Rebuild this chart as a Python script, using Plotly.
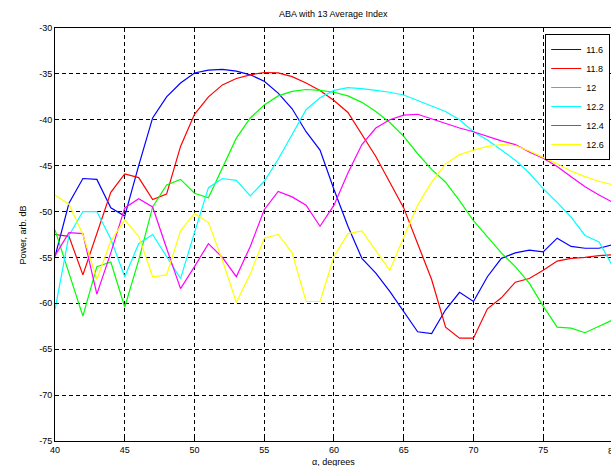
import plotly.graph_objects as go

angles = list(range(40, 81))

s116 = [-54.9, -49.1, -46.4, -46.5, -49.6, -50.5, -45.0, -39.8, -37.5, -36.0,
        -34.9, -34.6, -34.5, -34.7, -35.1, -35.8, -37.1, -38.8, -41.3, -43.3,
        -47.6, -51.6, -55.1, -56.7, -58.7, -60.9, -63.1, -63.3, -60.7, -58.8,
        -59.8, -57.1, -55.1, -54.5, -54.2, -54.4, -52.9, -53.8, -54.0, -54.0, -53.6]
s118 = [-52.5, -52.7, -56.9, -52.3, -47.9, -45.9, -46.3, -48.7, -48.1, -42.9,
        -39.4, -37.5, -36.2, -35.5, -35.1, -34.85, -34.9, -35.3, -36.0, -36.8,
        -37.9, -39.2, -41.6, -44.0, -46.8, -49.6, -53.5, -57.4, -62.6, -63.8,
        -63.8, -60.6, -59.4, -57.7, -57.3, -56.4, -55.4, -55.1, -55.0, -54.8, -54.7]
s120 = [-52.0, -56.7, -61.4, -56.0, -55.5, -60.4, -55.3, -49.5, -47.1, -46.5,
        -48.0, -48.5, -45.3, -42.0, -39.8, -38.4, -37.4, -36.9, -36.7, -36.8,
        -37.0, -37.4, -38.1, -39.1, -40.3, -41.8, -43.7, -45.4, -46.8, -48.8,
        -51.0, -52.8, -54.5, -56.0, -57.8, -60.3, -62.6, -62.7, -63.2, -62.5, -61.8]
s122 = [-60.7, -52.6, -50.0, -50.0, -53.0, -57.1, -53.5, -52.5, -54.9, -57.3,
        -52.3, -47.4, -46.4, -46.6, -48.3, -46.7, -44.3, -41.6, -38.9, -37.6,
        -36.8, -36.5, -36.6, -36.8, -37.0, -37.3, -37.9, -38.5, -39.1, -40.0,
        -41.3, -42.2, -43.3, -44.4, -45.8, -47.5, -49.0, -50.6, -52.6, -53.3, -56.0]
s124 = [-54.8, -52.3, -52.4, -59.0, -54.5, -49.6, -48.6, -49.5, -54.0, -58.4,
        -56.0, -53.5, -55.0, -57.1, -53.8, -49.8, -47.8, -48.4, -49.3, -51.6,
        -49.3, -45.8, -42.7, -40.9, -40.0, -39.5, -39.4, -39.9, -40.4, -40.9,
        -41.3, -41.8, -42.3, -42.7, -43.5, -44.2, -45.1, -46.2, -47.3, -48.2, -49.0]
s126 = [-48.2, -49.2, -52.5, -57.4, -53.2, -50.9, -52.7, -57.1, -56.9, -52.1,
        -50.2, -51.2, -55.3, -59.9, -56.8, -52.9, -52.5, -54.5, -59.8, -59.8,
        -54.9, -52.4, -52.1, -54.2, -56.4, -52.8, -49.3, -46.8, -44.8, -43.8,
        -43.3, -42.9, -42.7, -42.8, -43.4, -44.1, -44.8, -45.6, -46.2, -46.7, -47.1]

series_names = ["11.6", "11.8", "12", "12.2", "12.4", "12.6"]
series_values = [s116, s118, s120, s122, s124, s126]
series_colors = ["#0000FF", "#FF0000", "#00FF00", "#00FFFF", "#FF00FF", "#FFFF00"]

x_ticks = [40, 45, 50, 55, 60, 65, 70, 75]
y_ticks = [-30, -35, -40, -45, -50, -55, -60, -65, -70, -75]

FONT = "Liberation Sans, Arial, sans-serif"

fig = go.Figure()
for name, vals, col in zip(series_names, series_values, series_colors):
    fig.add_trace(go.Scatter(x=angles, y=vals, mode="lines", name=name,
                             line=dict(color=col, width=1.2)))

fig.update_layout(
    width=611, height=466,
    margin=dict(l=55, r=0, t=28, b=25),
    paper_bgcolor="white", plot_bgcolor="white",
    font=dict(family=FONT, size=9, color="black"),
    showlegend=True,
    legend=dict(x=0.9985, xanchor="right", y=1.0 - 6/413, yanchor="top",
                bgcolor="white", bordercolor="black", borderwidth=1,
                font=dict(size=9), tracegroupgap=0),
)
fig.update_xaxes(
    range=[40, 79.86], tickvals=x_ticks, ticktext=[str(v) for v in x_ticks],
    ticks="inside", ticklen=4, tickcolor="black",
    showline=True, linecolor="black", linewidth=1, mirror="ticks",
    showgrid=True, gridcolor="black", gridwidth=1, griddash="4px,3px",
    zeroline=False, tickfont=dict(size=9),
)
fig.update_yaxes(
    range=[-75, -30], tickvals=y_ticks, ticktext=[str(v) for v in y_ticks],
    ticks="inside", ticklen=4, tickcolor="black",
    showline=True, linecolor="black", linewidth=1,
    showgrid=True, gridcolor="black", gridwidth=1, griddash="4px,3px",
    zeroline=False, tickfont=dict(size=9),
)

fig.add_annotation(text="ABA with 13 Average Index", xref="paper", yref="paper",
                   x=0.5, y=1.034, xanchor="center", yanchor="middle",
                   showarrow=False, font=dict(size=9))
fig.add_annotation(text="Power, arb. dB", xref="paper", yref="paper",
                   x=-0.0576, y=0.5, xanchor="center", yanchor="middle",
                   textangle=-90, showarrow=False, font=dict(size=9))
fig.add_annotation(text="α, degrees", xref="paper", yref="paper",
                   x=0.5, y=-0.052, xanchor="center", yanchor="middle",
                   showarrow=False, font=dict(size=9))
fig.add_annotation(text="80", xref="paper", yref="paper", x=1.0035, y=-0.024,
                   xanchor="center", yanchor="middle",
                   showarrow=False, font=dict(size=9))

fig.write_html("out.html")
